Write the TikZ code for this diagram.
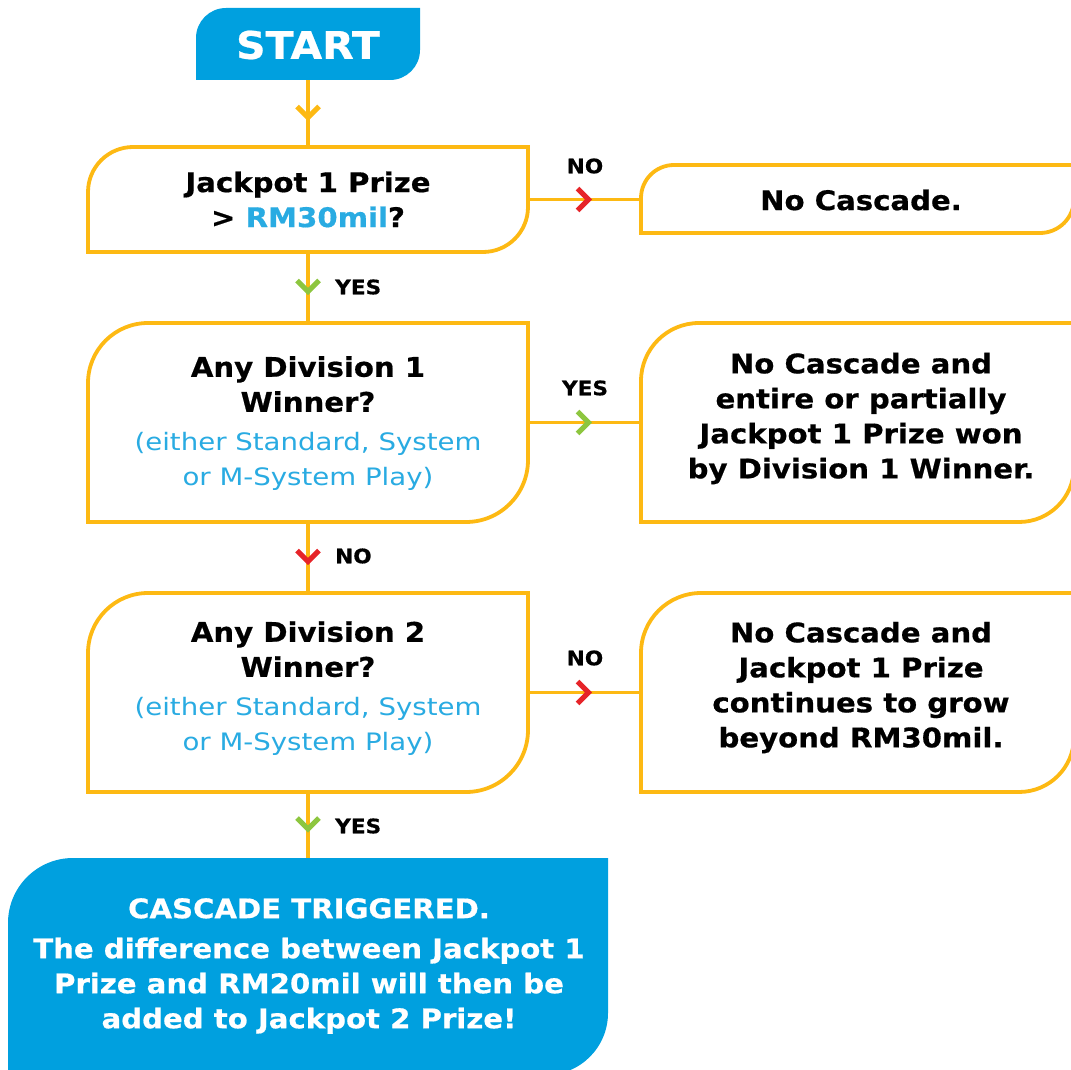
\documentclass[tikz,border=0pt]{standalone}
\usepackage{fontspec}
\setmainfont{DejaVu Sans}[FakeStretch=1.08, BoldFeatures={FakeBold=0.6}]
\newfontfamily\thinfont{DejaVu Sans}[FakeStretch=1.15]
\usetikzlibrary{calc,decorations.markings}
\definecolor{lineor}{RGB}{253,185,19}
\definecolor{fillblue}{RGB}{0,160,223}
\definecolor{tblue}{RGB}{41,171,226}
\definecolor{cred}{RGB}{230,36,41}
\definecolor{cgreen}{RGB}{141,198,63}
\newcommand{\leafbox}[4]{%
  \path[#4] (#1.south west) -- ($(#1.north west)+(0,#2)$)
    arc[start angle=180,end angle=270,radius=#2] -- (#1.north east)
    -- ($(#1.south east)+(0,-#3)$)
    arc[start angle=0,end angle=90,radius=#3] -- cycle;}
\newcommand{\bluetxt}{\thinfont\mdseries\fontsize{24}{36}\selectfont\color{tblue}}
\tikzset{
  boxnode/.style={rectangle, inner sep=0pt, outer sep=0pt, anchor=north west},
  outline/.style={draw=lineor, line width=3.8pt, fill=white},
  solidblue/.style={fill=fillblue},
  txt/.style={font=\bfseries\fontsize{27}{35}\selectfont, align=center, inner sep=0pt},
  lbl/.style={font=\bfseries\fontsize{20}{22}\selectfont, inner sep=0pt},
  conn/.style={draw=lineor, line width=3.8pt, postaction={decorate},
    decoration={markings, mark=at position 0.5 with
      {\draw[draw=#1, line width=5pt, line cap=butt, line join=miter] (-7,-11) -- (4,0) -- (-7,11);}}}
}
\begin{document}
\begin{tikzpicture}[x=1pt,y=-1pt]
\useasboundingbox (0,0) rectangle (1071,1070);
\clip (0,0) rectangle (1071,1070);
% box frames
\node[boxnode, minimum width=224pt, minimum height=72pt] (start) at (196,8) {};
\node[boxnode, minimum width=440pt, minimum height=105pt] (jp) at (88,147) {};
\node[boxnode, minimum width=433pt, minimum height=68pt] (nc) at (641,165) {};
\node[boxnode, minimum width=440pt, minimum height=199pt] (d1) at (88,323) {};
\node[boxnode, minimum width=433pt, minimum height=199pt] (d1y) at (641,323) {};
\node[boxnode, minimum width=440pt, minimum height=199pt] (d2) at (88,593) {};
\node[boxnode, minimum width=433pt, minimum height=199pt] (d2n) at (641,593) {};
\node[boxnode, minimum width=600pt, minimum height=217pt] (cas) at (8,858) {};
% connectors
\draw[conn=lineor] (start.south) -- (jp.north);
\draw[conn=cgreen] (jp.south) -- (d1.north);
\draw[conn=cred] (d1.south) -- (d2.north);
\draw[conn=cgreen] (d2.south) -- (cas.north);
\draw[conn=cred] (jp.east) -- (jp.east -| nc.west);
\draw[conn=cgreen] (d1.east) -- (d1y.west);
\draw[conn=cred] (d2.east) -- (d2n.west);
% shapes
\leafbox{start}{30}{30}{solidblue}
\leafbox{jp}{45}{45}{outline}
\leafbox{nc}{33}{34}{outline}
\leafbox{d1}{60}{62}{outline}
\leafbox{d1y}{58}{55}{outline}
\leafbox{d2}{60}{62}{outline}
\leafbox{d2n}{60}{55}{outline}
\leafbox{cas}{65}{62}{solidblue}
% texts
\node[font=\bfseries\fontsize{38}{40}\selectfont, text=white, inner sep=0pt] (startt) at ([yshift=-1pt]start.center) {START};
\node[txt] (jpt) at (jp.center) {Jackpot 1 Prize\\> \textcolor{tblue}{RM30mil}?};
\node[txt] (nct) at ([yshift=-1pt]nc.center -| 861,0) {No Cascade.};
\node[txt] (d1t) at ([yshift=-1pt]d1.center) {Any Division 1\\Winner?\\[4pt]{\bluetxt (either Standard, System}\\{\bluetxt or M-System Play)}};
\node[txt] (d1yt) at ([yshift=4pt]d1y.center -| 861,0) {No Cascade and\\entire or partially\\Jackpot 1 Prize won\\by Division 1 Winner.};
\node[txt] (d2t) at ([yshift=4pt]d2.center) {Any Division 2\\Winner?\\[4pt]{\bluetxt (either Standard, System}\\{\bluetxt or M-System Play)}};
\node[txt] (d2nt) at ([yshift=5pt]d2n.center -| 861,0) {No Cascade and\\Jackpot 1 Prize\\continues to grow\\beyond RM30mil.};
\node[txt, text=white] (cast) at (309,966) {CASCADE TRIGGERED.\\[5pt]The difference between Jackpot 1\\Prize and RM20mil will then be\\added to Jackpot 2 Prize!};
% labels
\node[lbl, anchor=west] (l1) at (335,287) {YES};
\node[lbl, anchor=west] (l2) at (335,556) {NO};
\node[lbl, anchor=west] (l3) at (335,826) {YES};
\node[lbl] (l4) at (585,166) {NO};
\node[lbl] (l5) at (585,388) {YES};
\node[lbl] (l6) at (585,658) {NO};
\end{tikzpicture}
\end{document}
